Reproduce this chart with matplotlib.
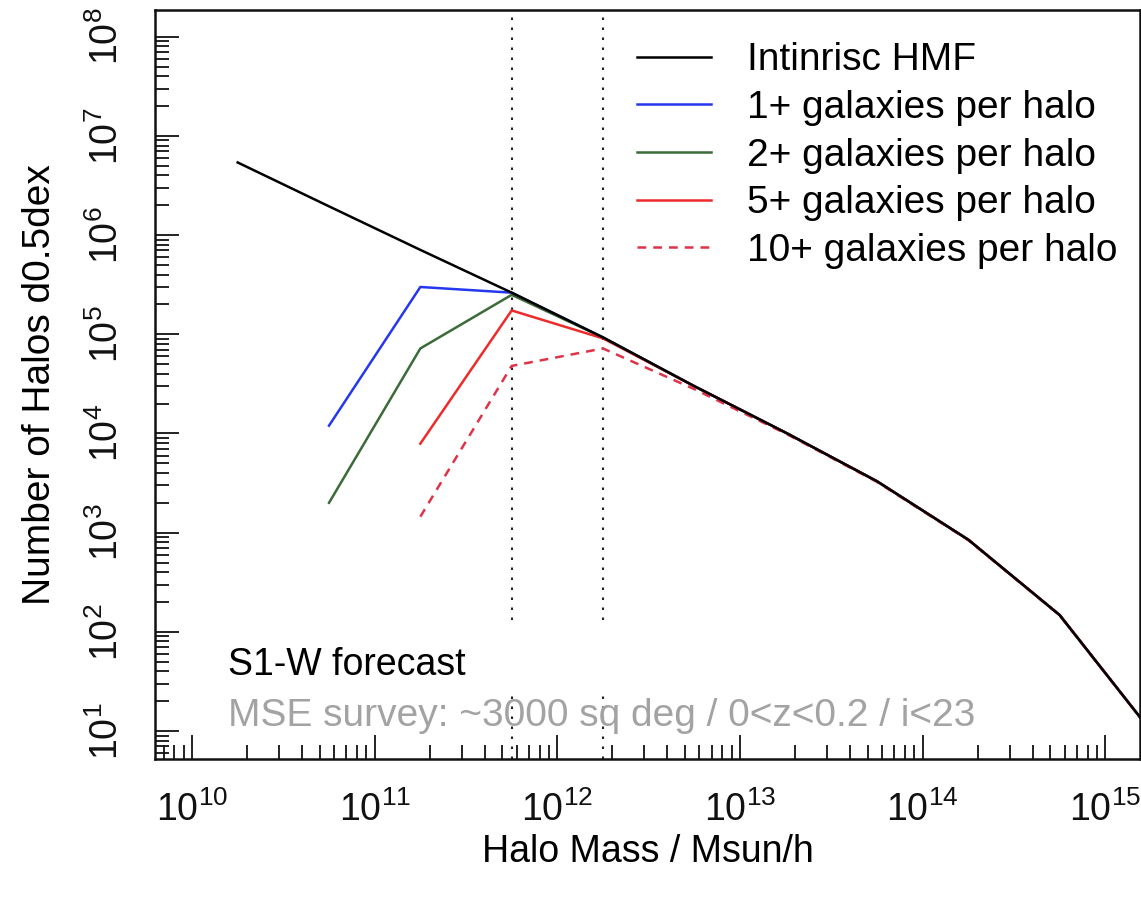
import numpy as np
import matplotlib.pyplot as plt
from matplotlib.ticker import LogLocator, NullFormatter, FuncFormatter

plt.rcParams['font.family'] = ['Liberation Sans', 'DejaVu Sans']
plt.rcParams['mathtext.default'] = 'regular'

# halo mass bins (log10 Msun/h), 0.5 dex steps
log_mass = [10.25, 10.75, 11.25, 11.75, 12.25, 12.75, 13.25, 13.75, 14.25, 14.75, 15.25]
nan = np.nan
hmf = [5.4e6, 1.95e6, 7.1e5, 2.63e5, 9.3e4, 3.0e4, 1.02e4, 3.3e3, 850, 148, 10]
gal1 = [nan, 1.2e4, 3.0e5, 2.63e5, 9.3e4, 3.0e4, 1.02e4, 3.3e3, 850, 148, 10]
gal2 = [nan, 2.0e3, 7.2e4, 2.5e5, 9.3e4, 3.0e4, 1.02e4, 3.3e3, 850, 148, 10]
gal5 = [nan, nan, 7.9e3, 1.74e5, 9.1e4, 3.0e4, 1.02e4, 3.3e3, 850, 148, 10]
gal10 = [nan, nan, 1.45e3, 4.8e4, 7.2e4, 2.8e4, 1.0e4, 3.25e3, 840, 147, 10]

labels = ["Intinrisc HMF", "1+ galaxies per halo", "2+ galaxies per halo",
          "5+ galaxies per halo", "10+ galaxies per halo"]

x_decades = [10, 11, 12, 13, 14, 15]
y_decades = [1, 2, 3, 4, 5, 6, 7, 8]

# mass cuts marked with dotted lines
cut_mass = [10**11.75, 10**12.25]
cut_low = (10**0.72, 10**1.36)
cut_high = (10**2.12, 10**8.4)

mass = 10**np.array(log_mass)

fig = plt.figure(figsize=(11.41, 8.97), dpi=100)
ax = fig.add_axes([0.1358, 0.1538, 0.8633, 0.8351])

ax.plot(mass, gal1, color='#2438ee', lw=1.8, label=labels[1], zorder=2)
ax.plot(mass, gal2, color='#3b6b38', lw=1.8, label=labels[2], zorder=2)
ax.plot(mass, gal5, color='#ee2b2b', lw=1.8, label=labels[3], zorder=2)
ax.plot(mass, gal10, color='#de3348', lw=1.8, ls=(0, (3.5, 2.8)), label=labels[4], zorder=2)
ax.plot(mass, hmf, color='k', lw=1.8, label=labels[0], zorder=3)

for seg in (cut_low, cut_high):
    ax.vlines(cut_mass, seg[0], seg[1], colors='#222222', lw=1.5,
              linestyles=(0, (1.2, 3.6)), zorder=1)

ax.set_xscale('log')
ax.set_yscale('log')
ax.set_xlim(10**9.797, 10**15.19)
ax.set_ylim(10**0.718, 10**8.27)

ax.set_xticks([10.0**k for k in x_decades])
ax.set_yticks([10.0**k for k in y_decades])
ax.xaxis.set_minor_locator(LogLocator(base=10, subs=np.arange(2, 10), numticks=20))
ax.yaxis.set_minor_locator(LogLocator(base=10, subs=np.arange(2, 10), numticks=20))
fmt = FuncFormatter(lambda v, p: r'$10^{%d}$' % round(np.log10(v)))
ax.xaxis.set_major_formatter(fmt)
ax.yaxis.set_major_formatter(fmt)
ax.xaxis.set_minor_formatter(NullFormatter())
ax.yaxis.set_minor_formatter(NullFormatter())

ax.tick_params(which='both', direction='in', top=False, right=False, width=1.3, colors='#111111')
ax.tick_params(which='major', length=17, labelsize=27)
ax.tick_params(which='minor', length=10)
ax.tick_params(axis='x', which='major', pad=23)
ax.tick_params(axis='y', which='major', pad=21, labelrotation=90)
for lab in ax.get_yticklabels():
    lab.set_va('center')
for sp in ax.spines.values():
    sp.set_linewidth(1.8)
    sp.set_color('#111111')

ax.set_xlabel("Halo Mass / Msun/h", fontsize=27)
ax.xaxis.set_label_coords(0.5, -0.1)
ax.set_ylabel("Number of Halos d0.5dex", fontsize=28)
ax.yaxis.set_label_coords(-0.098, 0.5)

ax.text(0.0741, 0.1121, "S1-W forecast", transform=ax.transAxes, fontsize=27,
        va='baseline', ha='left', color='k')
ax.text(0.0741, 0.0441, "MSE survey: ~3000 sq deg / 0<z<0.2 / i<23", transform=ax.transAxes,
        fontsize=28, va='baseline', ha='left', color='#a3a3a3')

handles, labs = ax.get_legend_handles_labels()
order = [4, 0, 1, 2, 3]
ax.legend([handles[i] for i in order], [labs[i] for i in order], loc='upper left',
          bbox_to_anchor=(0.489, 0.957), frameon=False, fontsize=28,
          handlelength=1.9, handletextpad=0.95, labelspacing=0.3,
          borderpad=0, borderaxespad=0)

fig.savefig('out.png', dpi=100)
